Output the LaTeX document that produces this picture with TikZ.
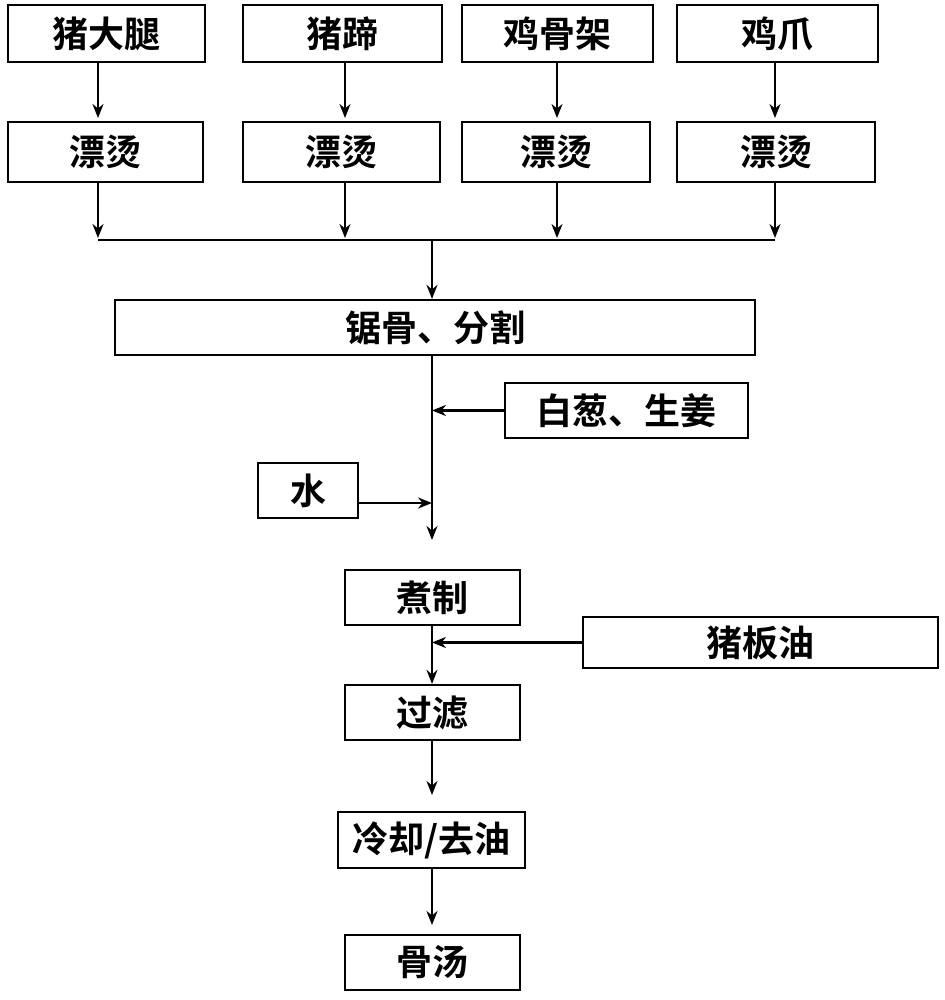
\documentclass[tikz,border=0pt]{standalone}
\usepackage{fontspec}
\setmainfont{Noto Sans CJK SC}[BoldFont={Noto Sans CJK SC Bold}]
\usetikzlibrary{arrows.meta}
\begin{document}
\begin{tikzpicture}[x=1pt,y=-1pt,
  bx/.style={draw,line width=2.2pt,inner sep=0pt,font=\fontsize{36}{36}\selectfont\bfseries},
  ar/.style={line width=2.2pt,-{Stealth[length=14pt,width=11pt]}},
  ln/.style={line width=2.2pt}]
\useasboundingbox (0,0) rectangle (944,1000);
\newcommand\bxat[6]{\node[bx,minimum width=#4-#2,minimum height=#5-#3] (#1) at ({(#2+#4)/2},{(#3+#5)/2}) {#6};}
\bxat{a1}{8}{5}{205}{62}{猪大腿}
\bxat{a2}{243}{5}{442}{62}{猪蹄}
\bxat{a3}{462}{5}{653}{62}{鸡骨架}
\bxat{a4}{677}{5}{878}{62}{鸡爪}
\bxat{b1}{8}{122}{203}{182}{漂烫}
\bxat{b2}{243}{122}{440}{182}{漂烫}
\bxat{b3}{462}{122}{650}{182}{漂烫}
\bxat{b4}{677}{122}{875}{182}{漂烫}
\bxat{c}{115}{300}{755}{355}{锯骨、分割}
\bxat{g}{505}{383}{748}{438}{白葱、生姜}
\bxat{w}{258}{463}{358}{518}{水}
\bxat{d}{345}{570}{520}{625}{煮制}
\bxat{p}{583}{617}{938}{668}{猪板油}
\bxat{f}{345}{685}{520}{740}{过滤}
\bxat{k}{338}{812}{525}{868}{冷却/去油}
\bxat{s}{345}{935}{520}{990}{骨汤}
\draw[ar] (98,62) -- (98,118);
\draw[ar] (345,62) -- (345,118);
\draw[ar] (557,62) -- (557,118);
\draw[ar] (775,62) -- (775,118);
\foreach \x in {98,345,557,775} \draw[ar] (\x,182) -- (\x,238);
\coordinate (hl) at (98,240); \coordinate (hr) at (775,240);
\draw[ln] (hl) -- (hr);
\draw[ar] (432,240) -- (c.north-|432,0);
\draw[ar] (c.south-|432,0) -- (432,540);
\draw[ar] (g.west) -- (g.west-|432,0);
\draw[ar] (358,503) -- (432,503);
\draw[ar] (d.south-|432,0) -- (f.north-|432,0);
\draw[ar] (p.west) -- (p.west-|432,0);
\draw[ar] (f.south-|432,0) -- (432,795);
\draw[ar] (k.south-|432,0) -- (432,925);
\end{tikzpicture}
\end{document}
